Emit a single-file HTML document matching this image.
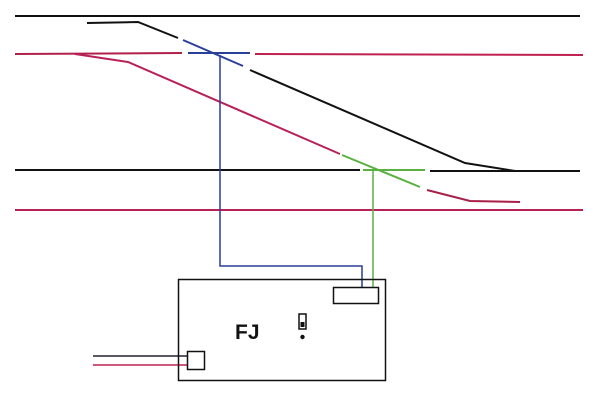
<!DOCTYPE html><html><head><style>body{margin:0;background:#fff}svg{display:block}</style></head><body>
<svg width="600" height="401" viewBox="0 0 600 401" xmlns="http://www.w3.org/2000/svg">
<g fill="none" stroke-width="2">
<line x1="15" y1="16" x2="580" y2="16" stroke="#111"/>
<polyline points="87,23 138,22 178,38" stroke="#111"/>
<line x1="183" y1="40" x2="243" y2="66" stroke="#2a3f9a"/>
<polyline points="250,70 465,163 515,171" stroke="#111"/>
<line x1="15" y1="54" x2="182" y2="53" stroke="#b0204a"/>
<line x1="188" y1="53" x2="250" y2="53" stroke="#2a3f9a"/>
<line x1="255" y1="54" x2="583" y2="55" stroke="#c02050"/>
<polyline points="75,54 128,62 340,154" stroke="#b8205a"/>
<line x1="342" y1="155" x2="420" y2="187" stroke="#5ab040"/>
<polyline points="427,190 470,201 520,202" stroke="#a8204a"/>
<line x1="15" y1="170" x2="360" y2="170" stroke="#111"/>
<line x1="363" y1="170" x2="425" y2="170" stroke="#5ab040"/>
<line x1="430" y1="171" x2="580" y2="171" stroke="#111"/>
<line x1="15" y1="210" x2="583" y2="210" stroke="#b8205a"/>
</g>
<g fill="none" stroke-width="1.5">
<polyline points="220,55 220,266 362,266 362,287" stroke="#2a3f9a"/>
<line x1="373" y1="171" x2="373" y2="287" stroke="#5ab040"/>
<line x1="93" y1="356" x2="187" y2="356" stroke="#223" />
<line x1="93" y1="365" x2="187" y2="365" stroke="#c02050"/>
<rect x="178.5" y="279.5" width="207" height="101" stroke="#111"/>
<rect x="333.5" y="287.5" width="45" height="16" stroke="#111"/>
<rect x="187.5" y="351.5" width="17" height="18" stroke="#111"/>
<rect x="299" y="314" width="7" height="15" stroke="#111"/>
</g>
<rect x="300.5" y="322" width="4" height="5" fill="#111"/>
<circle cx="302.5" cy="337" r="2.2" fill="#111"/>
<text x="235" y="339" font-family="Liberation Sans, sans-serif" font-size="21" font-weight="bold" fill="#111">FJ</text>
</svg>
</body></html>
